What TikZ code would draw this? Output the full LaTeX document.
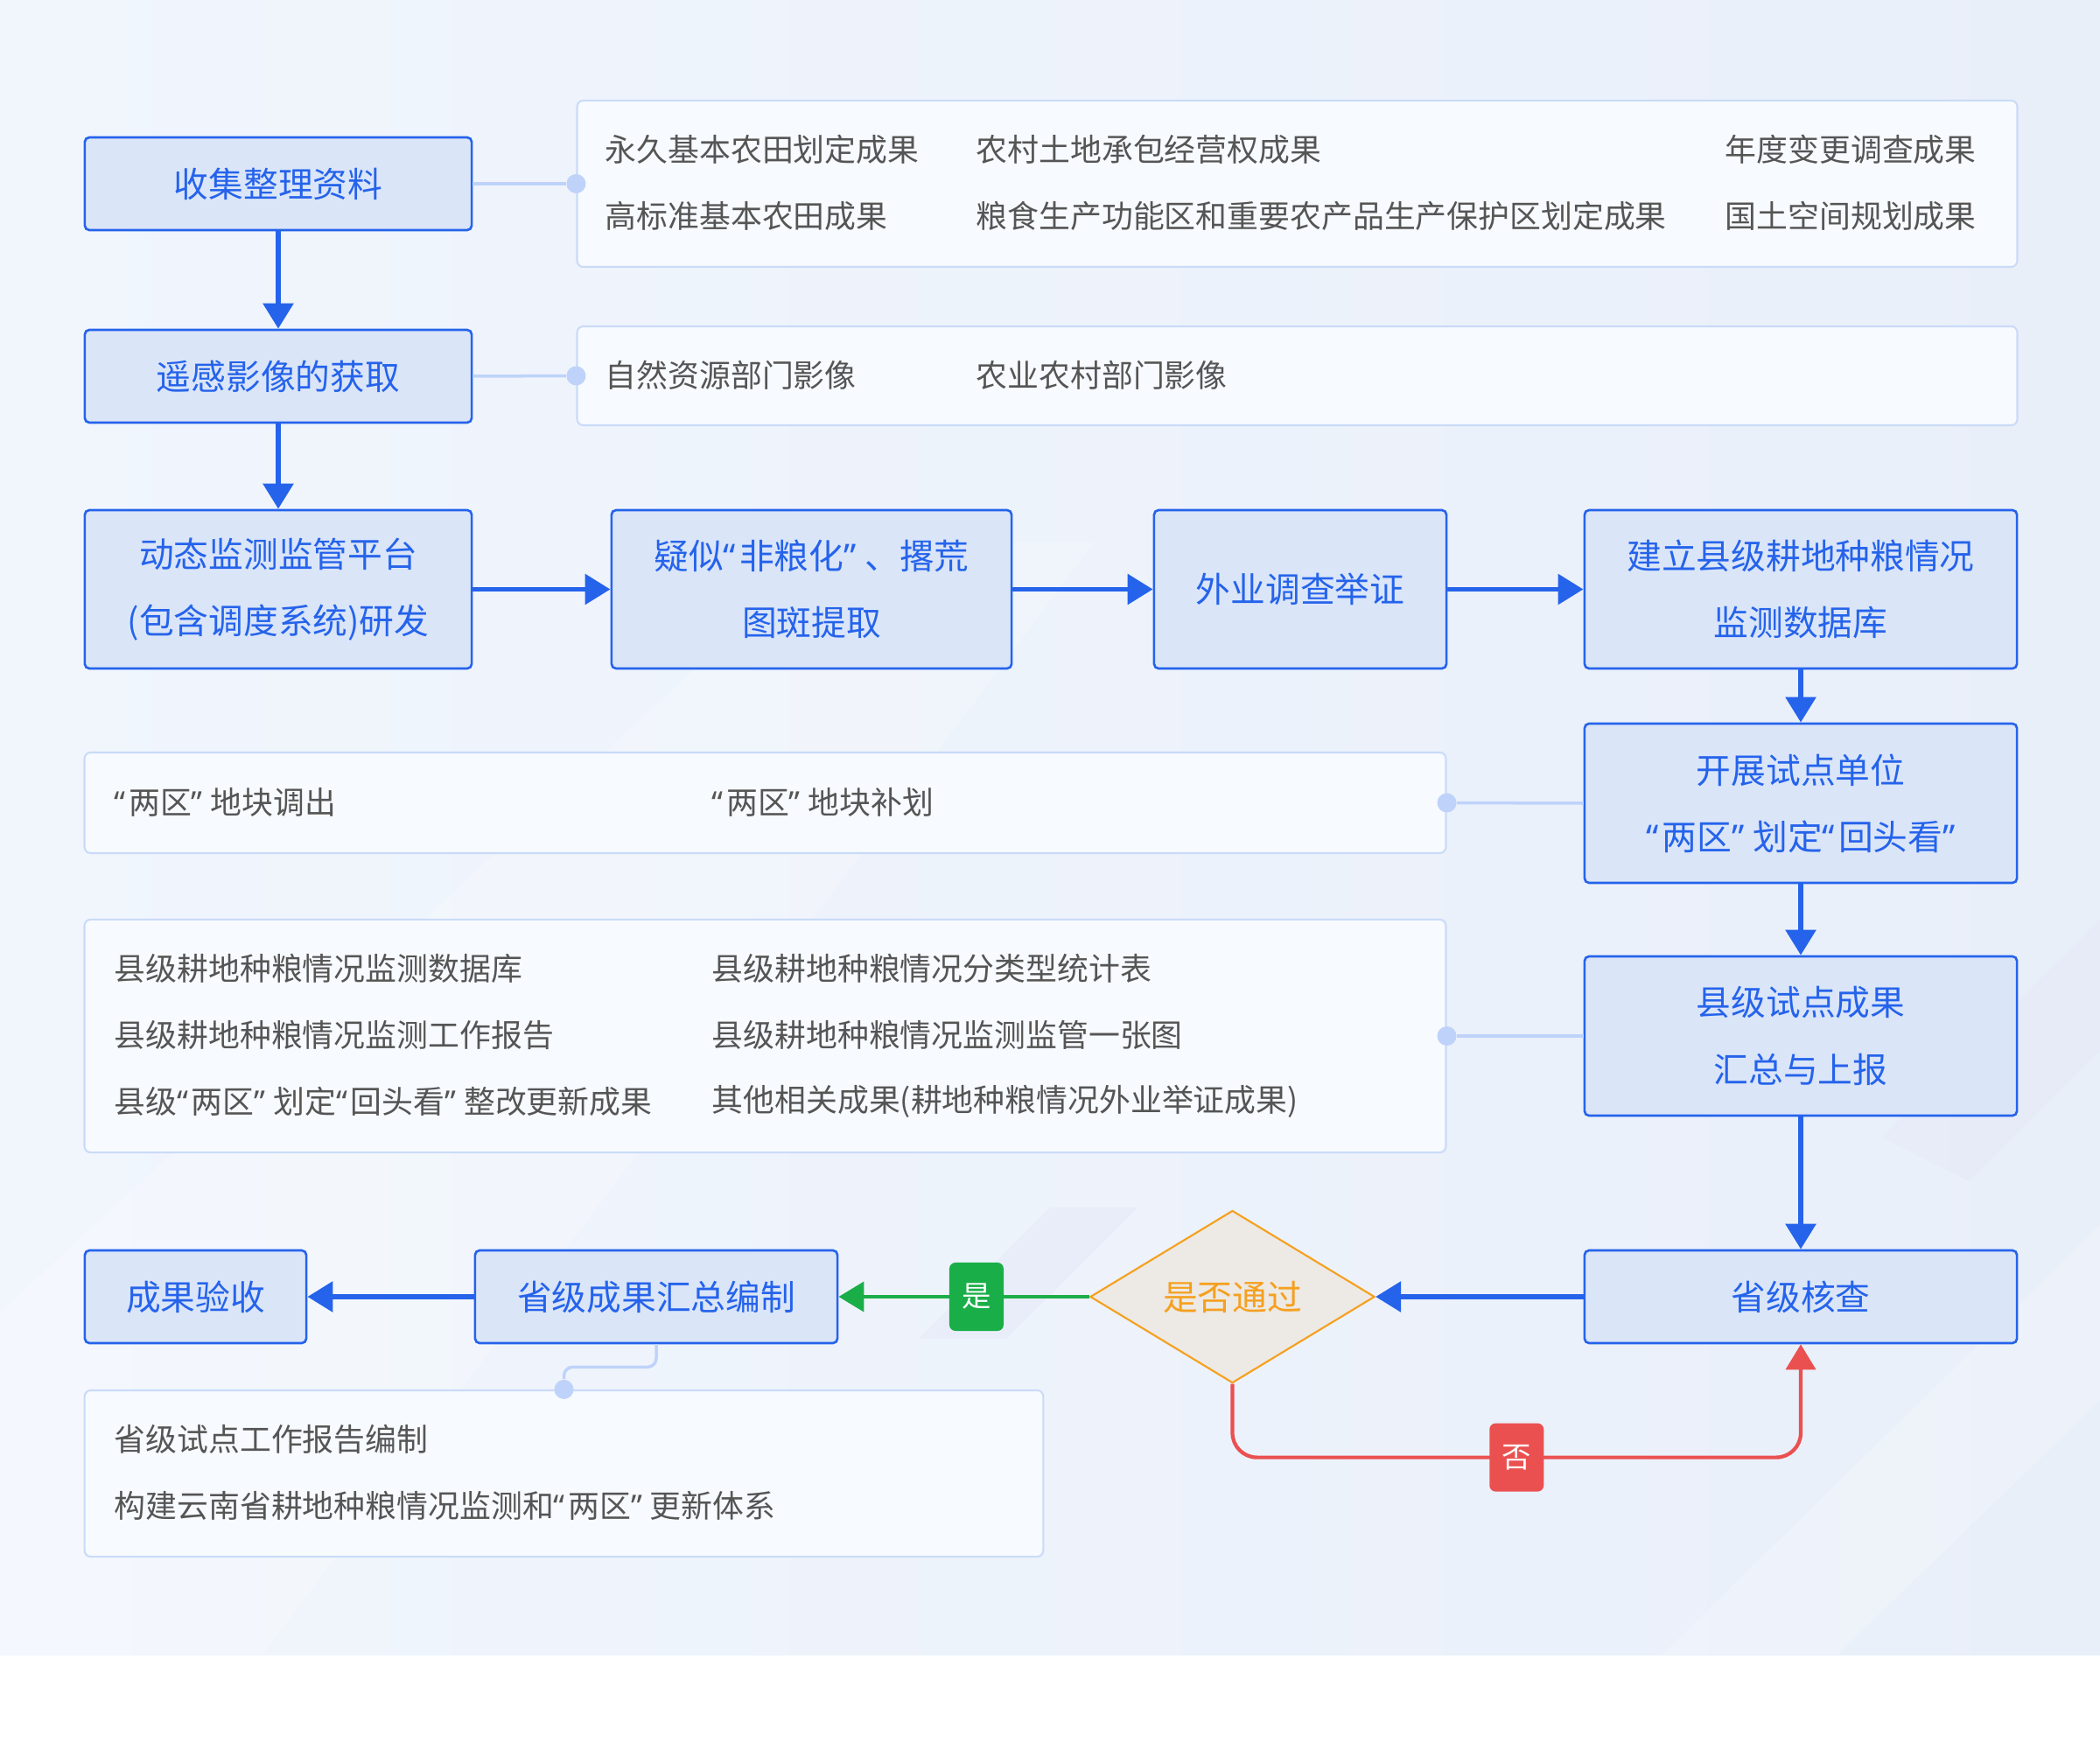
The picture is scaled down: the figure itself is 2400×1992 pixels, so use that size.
\documentclass[tikz,border=0pt]{standalone}
\usepackage{fontspec}
\newfontfamily\cjk{Noto Sans CJK SC}
\newfontfamily\qfont{Noto Sans}
\newcommand\lqm{{\qfont “}\kern0.1em}
\newcommand\rqm{{\qfont ”}\kern0.25em}
\usetikzlibrary{shapes.geometric,arrows.meta}
\definecolor{bgA}{HTML}{F1F6FD}
\definecolor{bgB}{HTML}{E9EFF9}
\definecolor{pblue}{HTML}{2563EB}
\definecolor{pfill}{HTML}{DAE5F8}
\definecolor{ifill}{HTML}{F7FAFE}
\definecolor{iborder}{HTML}{CADBF8}
\definecolor{itext}{HTML}{555555}
\definecolor{lnk}{HTML}{BFD3FA}
\definecolor{okgreen}{HTML}{1AAE48}
\definecolor{nored}{HTML}{EB5050}
\definecolor{amber}{HTML}{F5A01E}
\definecolor{dfill}{HTML}{EDE9E4}
\definecolor{lav}{HTML}{E2E2F6}
\tikzset{
  proc/.style={draw=pblue, line width=0.75pt, fill=pfill, rounded corners=1.5pt, text=pblue,
    font=\cjk\fontsize{11.3}{21.7}\selectfont, align=center, inner sep=0pt},
  info/.style={draw=iborder, line width=0.6pt, fill=ifill, rounded corners=2pt, inner sep=0pt},
  itxt/.style={anchor=west, text=itext, font=\cjk\fontsize{10.2}{12}\selectfont, inner sep=0pt},
  flow/.style={draw=pblue, line width=1.7pt, -{Triangle[length=0.29cm,width=0.34cm]}},
  link/.style={draw=lnk, line width=1pt},
  dotnode/.style={circle, fill=lnk, inner sep=0pt, minimum size=0.22cm},
  tag/.style={rounded corners=2pt, inner sep=0pt, minimum width=0.62cm, minimum height=0.78cm,
    text=white, font=\cjk\fontsize{9.5}{10}\selectfont},
}
\begin{document}
\begin{tikzpicture}[x=0.01cm, y=-0.01cm]
\useasboundingbox (0,0) rectangle (2400,1992);
% background
\fill[white] (0,0) rectangle (2400,1992);
\shade[left color=bgA, right color=bgB] (0,0) rectangle (2400,1891);
\fill[white, opacity=0.22] (0,1891) -- (0,1500) -- (950,620) -- (1250,620) -- (300,1891) -- cycle;
\fill[lav, opacity=0.35] (1050,1530) -- (1200,1380) -- (1300,1380) -- (1150,1530) -- cycle;
\fill[white, opacity=0.2] (1900,1891) -- (2400,1400) -- (2400,1600) -- (2100,1891) -- cycle;
\fill[lav, opacity=0.25] (2150,1300) -- (2400,1050) -- (2400,1200) -- (2250,1350) -- cycle;

% info boxes
\node[info, minimum width=16.45cm, minimum height=1.90cm] (iA) at (1482.5,210) {};
\node[info, minimum width=16.45cm, minimum height=1.13cm] (iB) at (1482.5,429.5) {};
\node[info, minimum width=15.55cm, minimum height=1.15cm] (iC) at (874.5,917.5) {};
\node[info, minimum width=15.55cm, minimum height=2.66cm] (iD) at (874.5,1184) {};
\node[info, minimum width=10.95cm, minimum height=1.90cm] (iE) at (644.5,1684) {};

\node[itxt] (tA1) at (691,171) {永久基本农田划定成果};
\node[itxt] (tA2) at (1115,171) {农村土地承包经营权成果};
\node[itxt] (tA3) at (1971,171) {年度变更调查成果};
\node[itxt] (tA4) at (691,247) {高标准基本农田成果};
\node[itxt] (tA5) at (1115,247) {粮食生产功能区和重要农产品生产保护区划定成果};
\node[itxt] (tA6) at (1971,247) {国土空间规划成果};
\node[itxt] (tB1) at (691,429) {自然资源部门影像};
\node[itxt] (tB2) at (1115,429) {农业农村部门影像};
\node[itxt] (tC1) at (130,917) {\lqm 两区\rqm 地块调出};
\node[itxt] (tC2) at (813,917) {\lqm 两区\rqm 地块补划};
\node[itxt] (tD1) at (130,1107) {县级耕地种粮情况监测数据库};
\node[itxt] (tD2) at (813,1107) {县级耕地种粮情况分类型统计表};
\node[itxt] (tD3) at (130,1183) {县级耕地种粮情况监测工作报告};
\node[itxt] (tD4) at (813,1183) {县级耕地种粮情况监测监管一张图};
\node[itxt] (tD5) at (130,1259) {县级\lqm 两区\rqm 划定\lqm 回头看\rqm 整改更新成果};
\node[itxt] (tD6) at (813,1259) {其他相关成果(耕地种粮情况外业举证成果)};
\node[itxt] (tE1) at (130,1645) {省级试点工作报告编制};
\node[itxt] (tE2) at (130,1721) {构建云南省耕地种粮情况监测和\lqm 两区\rqm 更新体系};

% process boxes
\node[proc, minimum width=4.42cm, minimum height=1.06cm] (b1) at (318,210) {收集整理资料};
\node[proc, minimum width=4.42cm, minimum height=1.06cm] (b2) at (318,430) {遥感影像的获取};
\node[proc, minimum width=4.42cm, minimum height=1.81cm] (b3) at (318,673.5) {动态监测监管平台\\(包含调度系统)研发};
\node[proc, minimum width=4.57cm, minimum height=1.81cm] (b4) at (927.5,673.5) {疑似\lqm 非粮化\rqm 、撂荒\\图斑提取};
\node[proc, minimum width=3.34cm, minimum height=1.81cm] (b5) at (1486,673.5) {外业调查举证};
\node[proc, minimum width=4.94cm, minimum height=1.81cm] (b6) at (2058,673.5) {建立县级耕地种粮情况\\监测数据库};
\node[proc, minimum width=4.94cm, minimum height=1.82cm] (b7) at (2058,918) {开展试点单位\\\lqm 两区\rqm 划定\lqm 回头看{\qfont ”}};
\node[proc, minimum width=4.94cm, minimum height=1.82cm] (b8) at (2058,1184) {县级试点成果\\汇总与上报};
\node[proc, minimum width=4.94cm, minimum height=1.06cm] (b9) at (2058,1482) {省级核查};
\node[diamond, draw=amber, fill=dfill, line width=0.6pt, aspect=1.65, minimum width=3.25cm,
  minimum height=1.97cm, inner sep=0pt, text=amber, font=\cjk\fontsize{11.3}{13}\selectfont] (dec) at (1408.5,1482) {是否通过};
\node[proc, minimum width=4.14cm, minimum height=1.06cm] (b11) at (750,1482) {省级成果汇总编制};
\node[proc, minimum width=2.53cm, minimum height=1.06cm] (b12) at (223.5,1482) {成果验收};

% link dots
\node[dotnode] (dA) at (iA.west) {};
\node[dotnode] (dB) at (iB.west) {};
\node[dotnode] (dC) at (iC.east) {};
\node[dotnode] (dD) at (iD.east) {};
\node[dotnode] (dE) at (iE.north) {};
\draw[link] (b1.east) -- (dA);
\draw[link] (b2.east) -- (dB);
\draw[link] (b7.west) -- (dC);
\draw[link] (b8.west) -- (dD);
\draw[link, rounded corners=0.1cm] (b11.south) -- ++(0,26) -| (dE);

% flows
\draw[flow] (b1) -- (b2);
\draw[flow] (b2) -- (b3);
\draw[flow] (b3) -- (b4);
\draw[flow] (b4) -- (b5);
\draw[flow] (b5) -- (b6);
\draw[flow] (b6) -- (b7);
\draw[flow] (b7) -- (b8);
\draw[flow] (b8) -- (b9);
\draw[flow] (b9) -- (dec);
\draw[flow] (b11) -- (b12);
\draw[draw=okgreen, line width=1.2pt, -{Triangle[length=0.29cm,width=0.34cm]}]
  (dec.west) -- node[tag, fill=okgreen, pos=0.45] (yes) {是} (b11.east);
\draw[draw=nored, line width=1.2pt, rounded corners=0.28cm, -{Triangle[length=0.29cm,width=0.34cm]}]
  (dec.south) -- ++(0,84) -| node[tag, fill=nored, pos=0.25] (no) {否} (b9.south);
\end{tikzpicture}
\end{document}
